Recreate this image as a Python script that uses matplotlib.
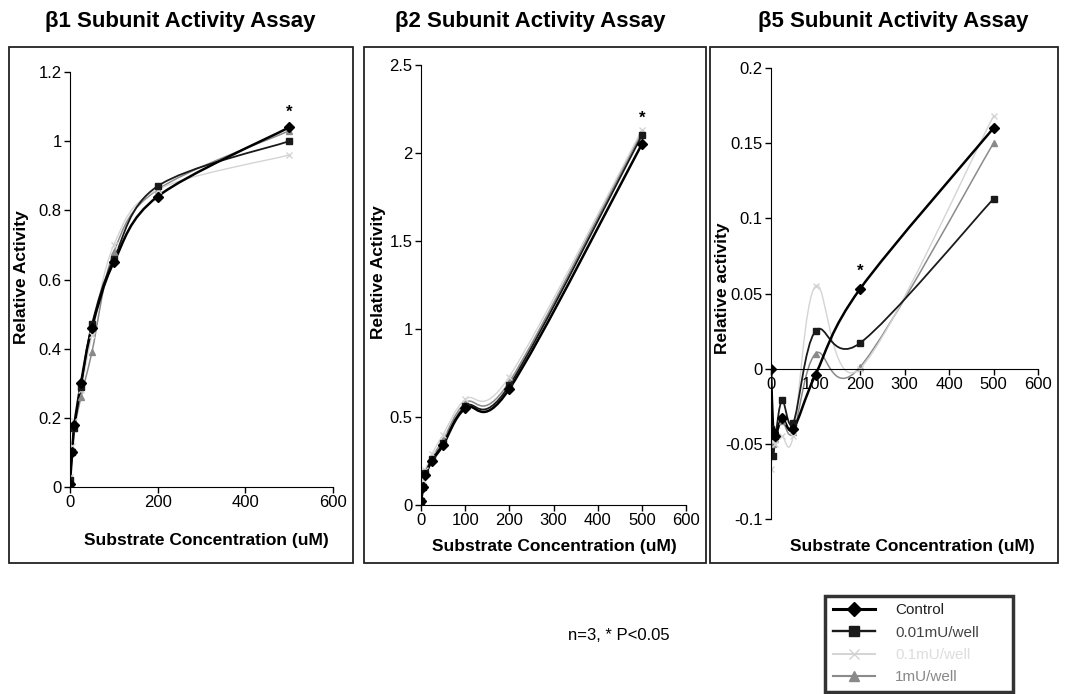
import numpy as np
import matplotlib.pyplot as plt
from matplotlib.path import Path
from matplotlib.patches import PathPatch, Rectangle
from matplotlib.lines import Line2D

plt.rcParams['font.family'] = ['Liberation Sans', 'DejaVu Sans']

conc = [0, 5, 10, 25, 50, 100, 200, 500]
series = ['Control', '0.01mU/well', '0.1mU/well', '1mU/well']

b1_control = [0.01, 0.10, 0.18, 0.30, 0.46, 0.65, 0.84, 1.04]
b1_low = [0.02, 0.10, 0.17, 0.29, 0.47, 0.66, 0.87, 1.00]
b1_mid = [0.03, 0.12, 0.19, 0.28, 0.44, 0.70, 0.86, 0.96]
b1_high = [0.03, 0.11, 0.17, 0.26, 0.39, 0.68, 0.86, 1.03]

b2_control = [0.02, 0.10, 0.17, 0.25, 0.34, 0.55, 0.66, 2.05]
b2_low = [0.02, 0.10, 0.18, 0.26, 0.35, 0.56, 0.68, 2.10]
b2_mid = [0.03, 0.14, 0.20, 0.29, 0.40, 0.60, 0.73, 2.13]
b2_high = [0.02, 0.12, 0.19, 0.27, 0.37, 0.58, 0.70, 2.12]

b5_control = [0.0, -0.042, -0.045, -0.033, -0.040, -0.004, 0.053, 0.160]
b5_low = [-0.040, -0.058, -0.045, -0.021, -0.036, 0.025, 0.017, 0.113]
b5_mid = [-0.067, -0.048, -0.050, -0.045, -0.045, 0.055, 0.000, 0.168]
b5_high = [-0.048, -0.050, -0.047, -0.035, -0.042, 0.010, 0.001, 0.150]

styles = [
    dict(color='black', marker='D', ms=5, lw=1.8),
    dict(color='#1a1a1a', marker='s', ms=5, lw=1.3),
    dict(color='#d4d4d4', marker='x', ms=5, lw=1.0),
    dict(color='#8a8a8a', marker='^', ms=5, lw=1.1),
]


def smooth_path(ax, xs, ys):
    # Excel-style smoothed line: cubic Bezier through the points, built in display space
    pts = ax.transData.transform(np.column_stack([xs, ys]))
    n = len(pts)
    verts = [pts[0]]
    codes = [Path.MOVETO]
    for i in range(n - 1):
        p0 = pts[max(i - 1, 0)]
        p1 = pts[i]
        p2 = pts[i + 1]
        p3 = pts[min(i + 2, n - 1)]
        verts += [p1 + (p2 - p0) / 6, p2 - (p3 - p1) / 6, p2]
        codes += [Path.CURVE4] * 3
    verts = ax.transData.inverted().transform(np.array(verts))
    return Path(verts, codes)


def draw_panel(ax, data, ylim, yticks, ylabels, star):
    ax.set_xlim(0, 600)
    ax.set_ylim(*ylim)
    for ys, st in zip(data[::-1], styles[::-1]):
        ax.add_patch(PathPatch(smooth_path(ax, conc, ys), fill=False,
                               ec=st['color'], lw=st['lw']))
        ax.plot(conc, ys, ls='none', marker=st['marker'], ms=st['ms'],
                color=st['color'], mec=st['color'])
    ax.text(star[0], star[1], '*', ha='center', va='center', fontsize=12,
            fontweight='bold')
    ax.set_yticks(yticks)
    ax.set_yticklabels(ylabels)
    ax.spines['top'].set_visible(False)
    ax.spines['right'].set_visible(False)
    ax.tick_params(direction='out', length=4, width=1, labelsize=12, pad=2)
    ax.patch.set_visible(False)


fig = plt.figure(figsize=(10.71, 6.94), dpi=100)
W, H = 1071, 694


def box(l, r, t, b):
    return [l / W, 1 - b / H, (r - l) / W, (b - t) / H]


# panel frames
for l, r in [(9, 353), (364, 706), (710, 1058)]:
    fig.patches.append(Rectangle((l / W, 1 - 563 / H), (r - l) / W, 516 / H,
                                 transform=fig.transFigure, fill=False,
                                 ec='#222222', lw=1.3))

ax1 = fig.add_axes(box(70, 333, 72, 487))
draw_panel(ax1, [b1_control, b1_low, b1_mid, b1_high], (0, 1.2),
           [0, 0.2, 0.4, 0.6, 0.8, 1.0, 1.2],
           ['0', '0.2', '0.4', '0.6', '0.8', '1', '1.2'], (500, 1.085))
ax1.set_xticks([0, 200, 400, 600])

ax2 = fig.add_axes(box(421, 686, 65, 505))
draw_panel(ax2, [b2_control, b2_low, b2_mid, b2_high], (0, 2.5),
           [0, 0.5, 1, 1.5, 2, 2.5], ['0', '0.5', '1', '1.5', '2', '2.5'],
           (500, 2.2))
ax2.set_xticks([0, 100, 200, 300, 400, 500, 600])

ax3 = fig.add_axes(box(771, 1038, 68, 519))
draw_panel(ax3, [b5_control, b5_low, b5_mid, b5_high], (-0.1, 0.2),
           [-0.1, -0.05, 0, 0.05, 0.1, 0.15, 0.2],
           ['-0.1', '-0.05', '0', '0.05', '0.1', '0.15', '0.2'], (200, 0.065))
ax3.set_xticks([0, 100, 200, 300, 400, 500, 600])
ax3.spines['bottom'].set_position(('data', 0))

titles = ['β1 Subunit Activity Assay', 'β2 Subunit Activity Assay',
          'β5 Subunit Activity Assay']
for x, t in zip([180, 530, 893], titles):
    fig.text(x / W, 1 - 21 / H, t, ha='center', va='center', fontsize=16,
             fontweight='bold')

for x, y in [(206, 540), (554, 547), (912, 546)]:
    fig.text(x / W, 1 - y / H, 'Substrate Concentration (uM)', ha='center',
             va='center', fontsize=12.5, fontweight='bold')
for x, y, t in [(22, 277, 'Relative Activity'), (378, 272, 'Relative Activity'),
                (723, 288, 'Relative activity')]:
    fig.text(x / W, 1 - y / H, t, ha='center', va='center', rotation=90,
             fontsize=12.5, fontweight='bold')

fig.text(568 / W, 1 - 636 / H, 'n=3, * P<0.05', ha='left', va='center',
         fontsize=12)

handles = [Line2D([], [], color=st['color'], marker=st['marker'], ms=7,
                  lw=st['lw'] + 0.4) for st in styles]
leg = fig.legend(handles, series, loc='lower left',
                 bbox_to_anchor=(825 / W, 1 - 692 / H, 188 / W, 109 / H),
                 mode='expand', fontsize=11, frameon=True, fancybox=False,
                 handlelength=2.8, handletextpad=1.3, labelspacing=0.55,
                 borderpad=0.5, borderaxespad=0)
leg.get_frame().set_edgecolor('black')
leg.get_frame().set_linewidth(2.5)
for txt, c in zip(leg.get_texts(), ['#222222', '#444444', '#dddddd', '#888888']):
    txt.set_color(c)

fig.savefig('out.png', dpi=100)
